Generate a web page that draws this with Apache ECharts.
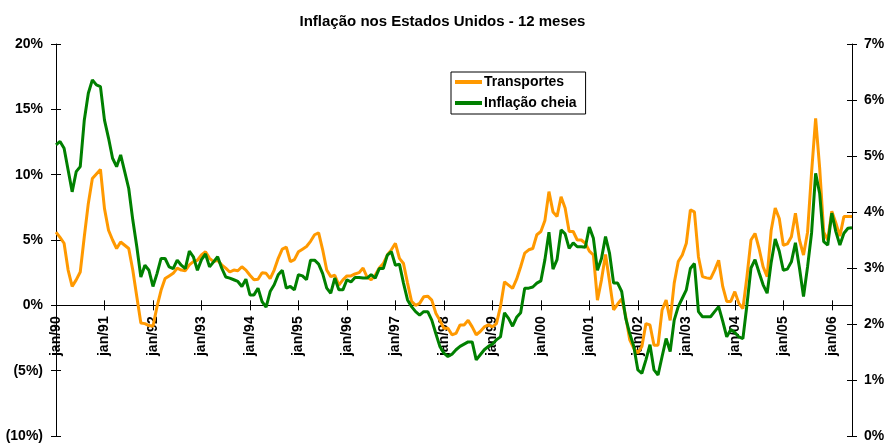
<!DOCTYPE html>
<html>
<head>
<meta charset="utf-8">
<script src="https://cdn.jsdelivr.net/npm/echarts@6/dist/echarts.min.js"></script>
<style>
html,body{margin:0;padding:0;background:#fff;}
#c{width:885px;height:443px;}
</style>
</head>
<body>
<div id="c"></div>
<script>
var monthNames = ['jan','fev','mar','abr','mai','jun','jul','ago','set','out','nov','dez'];
var years = ['90','91','92','93','94','95','96','97','98','99','00','01','02','03','04','05','06'];
var monthsInLastYear = 6;

var transportes = [
  5.6, 5.2, 4.75, 2.7, 1.45, 1.95, 2.55, 5.25, 7.8, 9.7, 10.05, 10.4,
  7.4, 5.75, 5.0, 4.35, 4.85, 4.6, 4.35, 2.7, 0.65, -1.35, -1.4, -1.55,
  -1.6, -0.1, 1.15, 2.05, 2.25, 2.45, 2.85, 2.7, 2.65, 3.1, 3.35, 3.45,
  3.85, 4.1, 3.6, 3.35, 3.45, 3.1, 2.85, 2.55, 2.7, 2.65, 2.95, 2.7,
  2.3, 1.95, 2.0, 2.5, 2.45, 2.05, 2.7, 3.6, 4.3, 4.45, 3.35, 3.5,
  4.1, 4.3, 4.5, 4.9, 5.4, 5.55, 4.25, 2.7, 2.2, 2.3, 1.55, 1.95,
  2.25, 2.25, 2.4, 2.5, 2.85, 2.15, 1.95, 2.3, 2.85, 3.2, 3.85, 4.25,
  4.75, 3.6, 3.2, 1.7, 0.3, 0.0, 0.15, 0.65, 0.7, 0.4, -0.6, -1.15,
  -1.75, -1.75, -2.25, -2.15, -1.5, -1.5, -1.15, -1.65, -2.25, -2.0, -1.65, -1.5,
  -1.65, -1.4, -0.1, 1.8, 1.55, 1.3, 2.0, 2.95, 4.0, 4.25, 4.35, 5.4,
  5.65, 6.5, 8.7, 7.15, 6.8, 8.3, 7.45, 5.65, 5.65, 5.0, 5.0, 4.75,
  4.15, 3.85, 0.4, 1.95, 3.9, 1.8, -0.35, 0.1, 0.5, -0.85, -2.65, -3.3,
  -3.65, -3.15, -1.4, -1.5, -3.05, -3.05, -0.35, 0.4, -1.15, 1.7, 3.35, 3.85,
  4.75, 7.3, 7.15, 3.7, 2.2, 2.1, 2.05, 2.7, 3.45, 1.45, 0.3, 0.3,
  1.05, 0.15, -0.25, 2.2, 5.0, 5.5, 4.35, 2.95, 2.2, 5.75, 7.45, 6.65,
  4.6, 4.7, 5.25, 7.05, 5.0, 3.85, 5.6, 10.2, 14.3, 10.5, 5.6, 5.0,
  7.2, 6.3, 5.3, 6.8, 6.8, 6.8
];

var inflacaoCheia = [
  5.2, 5.26, 5.14, 4.75, 4.36, 4.72, 4.81, 5.64, 6.12, 6.36, 6.27, 6.24,
  5.64, 5.32, 4.96, 4.81, 5.02, 4.72, 4.42, 3.86, 3.38, 2.84, 3.05, 2.96,
  2.67, 2.9, 3.17, 3.17, 3.02, 2.99, 3.14, 3.05, 2.99, 3.3, 3.2, 2.96,
  3.15, 3.25, 3.02, 3.11, 3.2, 3.0, 2.84, 2.82, 2.79, 2.76, 2.67, 2.8,
  2.52, 2.52, 2.64, 2.4, 2.3, 2.58, 2.7, 2.88, 2.96, 2.64, 2.67, 2.61,
  2.88, 2.86, 2.79, 3.14, 3.14, 3.07, 2.9, 2.64, 2.55, 2.82, 2.61, 2.61,
  2.79, 2.75, 2.83, 2.83, 2.82, 2.82, 2.88, 2.82, 2.99, 2.99, 3.23, 3.29,
  3.05, 3.07, 2.73, 2.43, 2.31, 2.22, 2.16, 2.22, 2.22, 2.07, 1.83, 1.6,
  1.48, 1.42, 1.46, 1.54, 1.6, 1.64, 1.68, 1.68, 1.36, 1.45, 1.54, 1.6,
  1.64, 1.72, 1.77, 2.2, 2.1, 1.96, 2.12, 2.2, 2.64, 2.64, 2.66, 2.73,
  2.77, 3.15, 3.64, 2.98, 3.15, 3.68, 3.61, 3.35, 3.45, 3.38, 3.38, 3.37,
  3.73, 3.53, 2.96, 3.17, 3.56, 3.26, 2.73, 2.73, 2.58, 2.1, 1.83, 1.6,
  1.18, 1.12, 1.36, 1.63, 1.18, 1.09, 1.42, 1.74, 1.51, 2.07, 2.31, 2.46,
  2.61, 2.99, 3.08, 2.22, 2.13, 2.13, 2.13, 2.22, 2.31, 2.05, 1.77, 1.9,
  1.85, 1.77, 1.74, 2.34, 3.0, 3.15, 2.92, 2.7, 2.55, 3.1, 3.52, 3.3,
  2.96, 2.98, 3.11, 3.45, 3.0, 2.49, 3.02, 3.63, 4.69, 4.33, 3.47, 3.41,
  3.98, 3.65, 3.41, 3.62, 3.71, 3.72
];

var leftTicks = {min: -10, max: 20, interval: 5};
var rightTicks = {min: 0, max: 7, interval: 1};

var categories = [];
years.forEach(function (y, yi) {
  var n = (yi === years.length - 1) ? monthsInLastYear : 12;
  for (var m = 0; m < n; m++) categories.push(monthNames[m] + '/' + y);
});

var FONT = "'Liberation Sans', Arial, sans-serif";
var lblStyle = {color: '#000', fontFamily: FONT, fontWeight: 'bold', fontSize: 14};

function leftFmt(v) { return v < 0 ? '(' + Math.abs(v) + '%)' : v + '%'; }

var GRID = {left: 56, right: 33, top: 44, bottom: 7};
var H = 443;
var plotH = H - GRID.top - GRID.bottom;
var zeroFromBottom = plotH * (0 - leftTicks.min) / (leftTicks.max - leftTicks.min);

var chart = echarts.init(document.getElementById('c'), null, {renderer: 'canvas'});
chart.setOption({
  animation: false,
  backgroundColor: '#fff',
  title: {
    text: 'Inflação nos Estados Unidos - 12 meses',
    left: 'center', top: 9,
    textStyle: {color: '#000', fontFamily: FONT, fontWeight: 'bold', fontSize: 15}
  },
  legend: {
    orient: 'vertical', left: 451, top: 72,
    padding: [3, 9, 4, 4],
    itemGap: 7, itemWidth: 27, itemHeight: 4,
    icon: 'rect',
    borderColor: '#000', borderWidth: 1,
    textStyle: {color: '#000', fontFamily: FONT, fontWeight: 'bold', fontSize: 14, padding: [0, 0, 0, -3]},
    data: ['Transportes', 'Inflação cheia']
  },
  grid: {left: GRID.left, right: GRID.right, top: GRID.top, bottom: GRID.bottom, containLabel: false, outerBoundsMode: 'none'},
  xAxis: [
    {
      type: 'category', data: categories, boundaryGap: false,
      axisLine: {onZero: true, onZeroAxisIndex: 0, lineStyle: {color: '#000', width: 1}},
      axisTick: {interval: 11, length: 5, inside: false, lineStyle: {color: '#000'}},
      axisLabel: {show: false},
      splitLine: {show: false}
    },
    {
      type: 'category', data: categories, boundaryGap: false, position: 'bottom',
      axisLine: {show: false, onZero: true, onZeroAxisIndex: 0},
      axisTick: {interval: 11, length: 5, inside: true, lineStyle: {color: '#000'}},
      axisLabel: {show: false},
      splitLine: {show: false}
    },
    {
      type: 'category', data: categories, boundaryGap: false, position: 'bottom',
      offset: -zeroFromBottom,
      axisLine: {show: false, onZero: false},
      axisTick: {show: false},
      axisLabel: Object.assign({interval: 11, rotate: 90, margin: 11}, lblStyle),
      splitLine: {show: false}
    }
  ],
  yAxis: [
    {
      type: 'value', position: 'left', min: leftTicks.min, max: leftTicks.max, interval: leftTicks.interval,
      axisLine: {show: true, onZero: false, lineStyle: {color: '#000', width: 1}},
      axisTick: {show: true, length: 5, inside: false, lineStyle: {color: '#000'}},
      axisLabel: Object.assign({margin: 13, formatter: leftFmt}, lblStyle),
      splitLine: {show: false}
    },
    {
      type: 'value', position: 'right', min: rightTicks.min, max: rightTicks.max, interval: rightTicks.interval,
      axisLine: {show: true, onZero: false, lineStyle: {color: '#000', width: 1}},
      axisTick: {show: true, length: 5, inside: false, lineStyle: {color: '#000'}},
      axisLabel: Object.assign({margin: 12, formatter: '{value}%'}, lblStyle),
      splitLine: {show: false}
    },
    {
      type: 'value', position: 'left', min: leftTicks.min, max: leftTicks.max, interval: leftTicks.interval,
      axisLine: {show: false, onZero: false},
      axisTick: {show: true, length: 5, inside: true, lineStyle: {color: '#000'}},
      axisLabel: {show: false}, splitLine: {show: false}
    },
    {
      type: 'value', position: 'right', min: rightTicks.min, max: rightTicks.max, interval: rightTicks.interval,
      axisLine: {show: false, onZero: false},
      axisTick: {show: true, length: 5, inside: true, lineStyle: {color: '#000'}},
      axisLabel: {show: false}, splitLine: {show: false}
    }
  ],
  series: [
    {
      name: 'Transportes', type: 'line', xAxisIndex: 0, yAxisIndex: 0,
      data: transportes, showSymbol: false, symbol: 'none',
      lineStyle: {color: '#FF9900', width: 3}, itemStyle: {color: '#FF9900'}
    },
    {
      name: 'Inflação cheia', type: 'line', xAxisIndex: 0, yAxisIndex: 1,
      data: inflacaoCheia, showSymbol: false, symbol: 'none',
      lineStyle: {color: '#008000', width: 3}, itemStyle: {color: '#008000'}
    }
  ]
});
</script>
</body>
</html>
